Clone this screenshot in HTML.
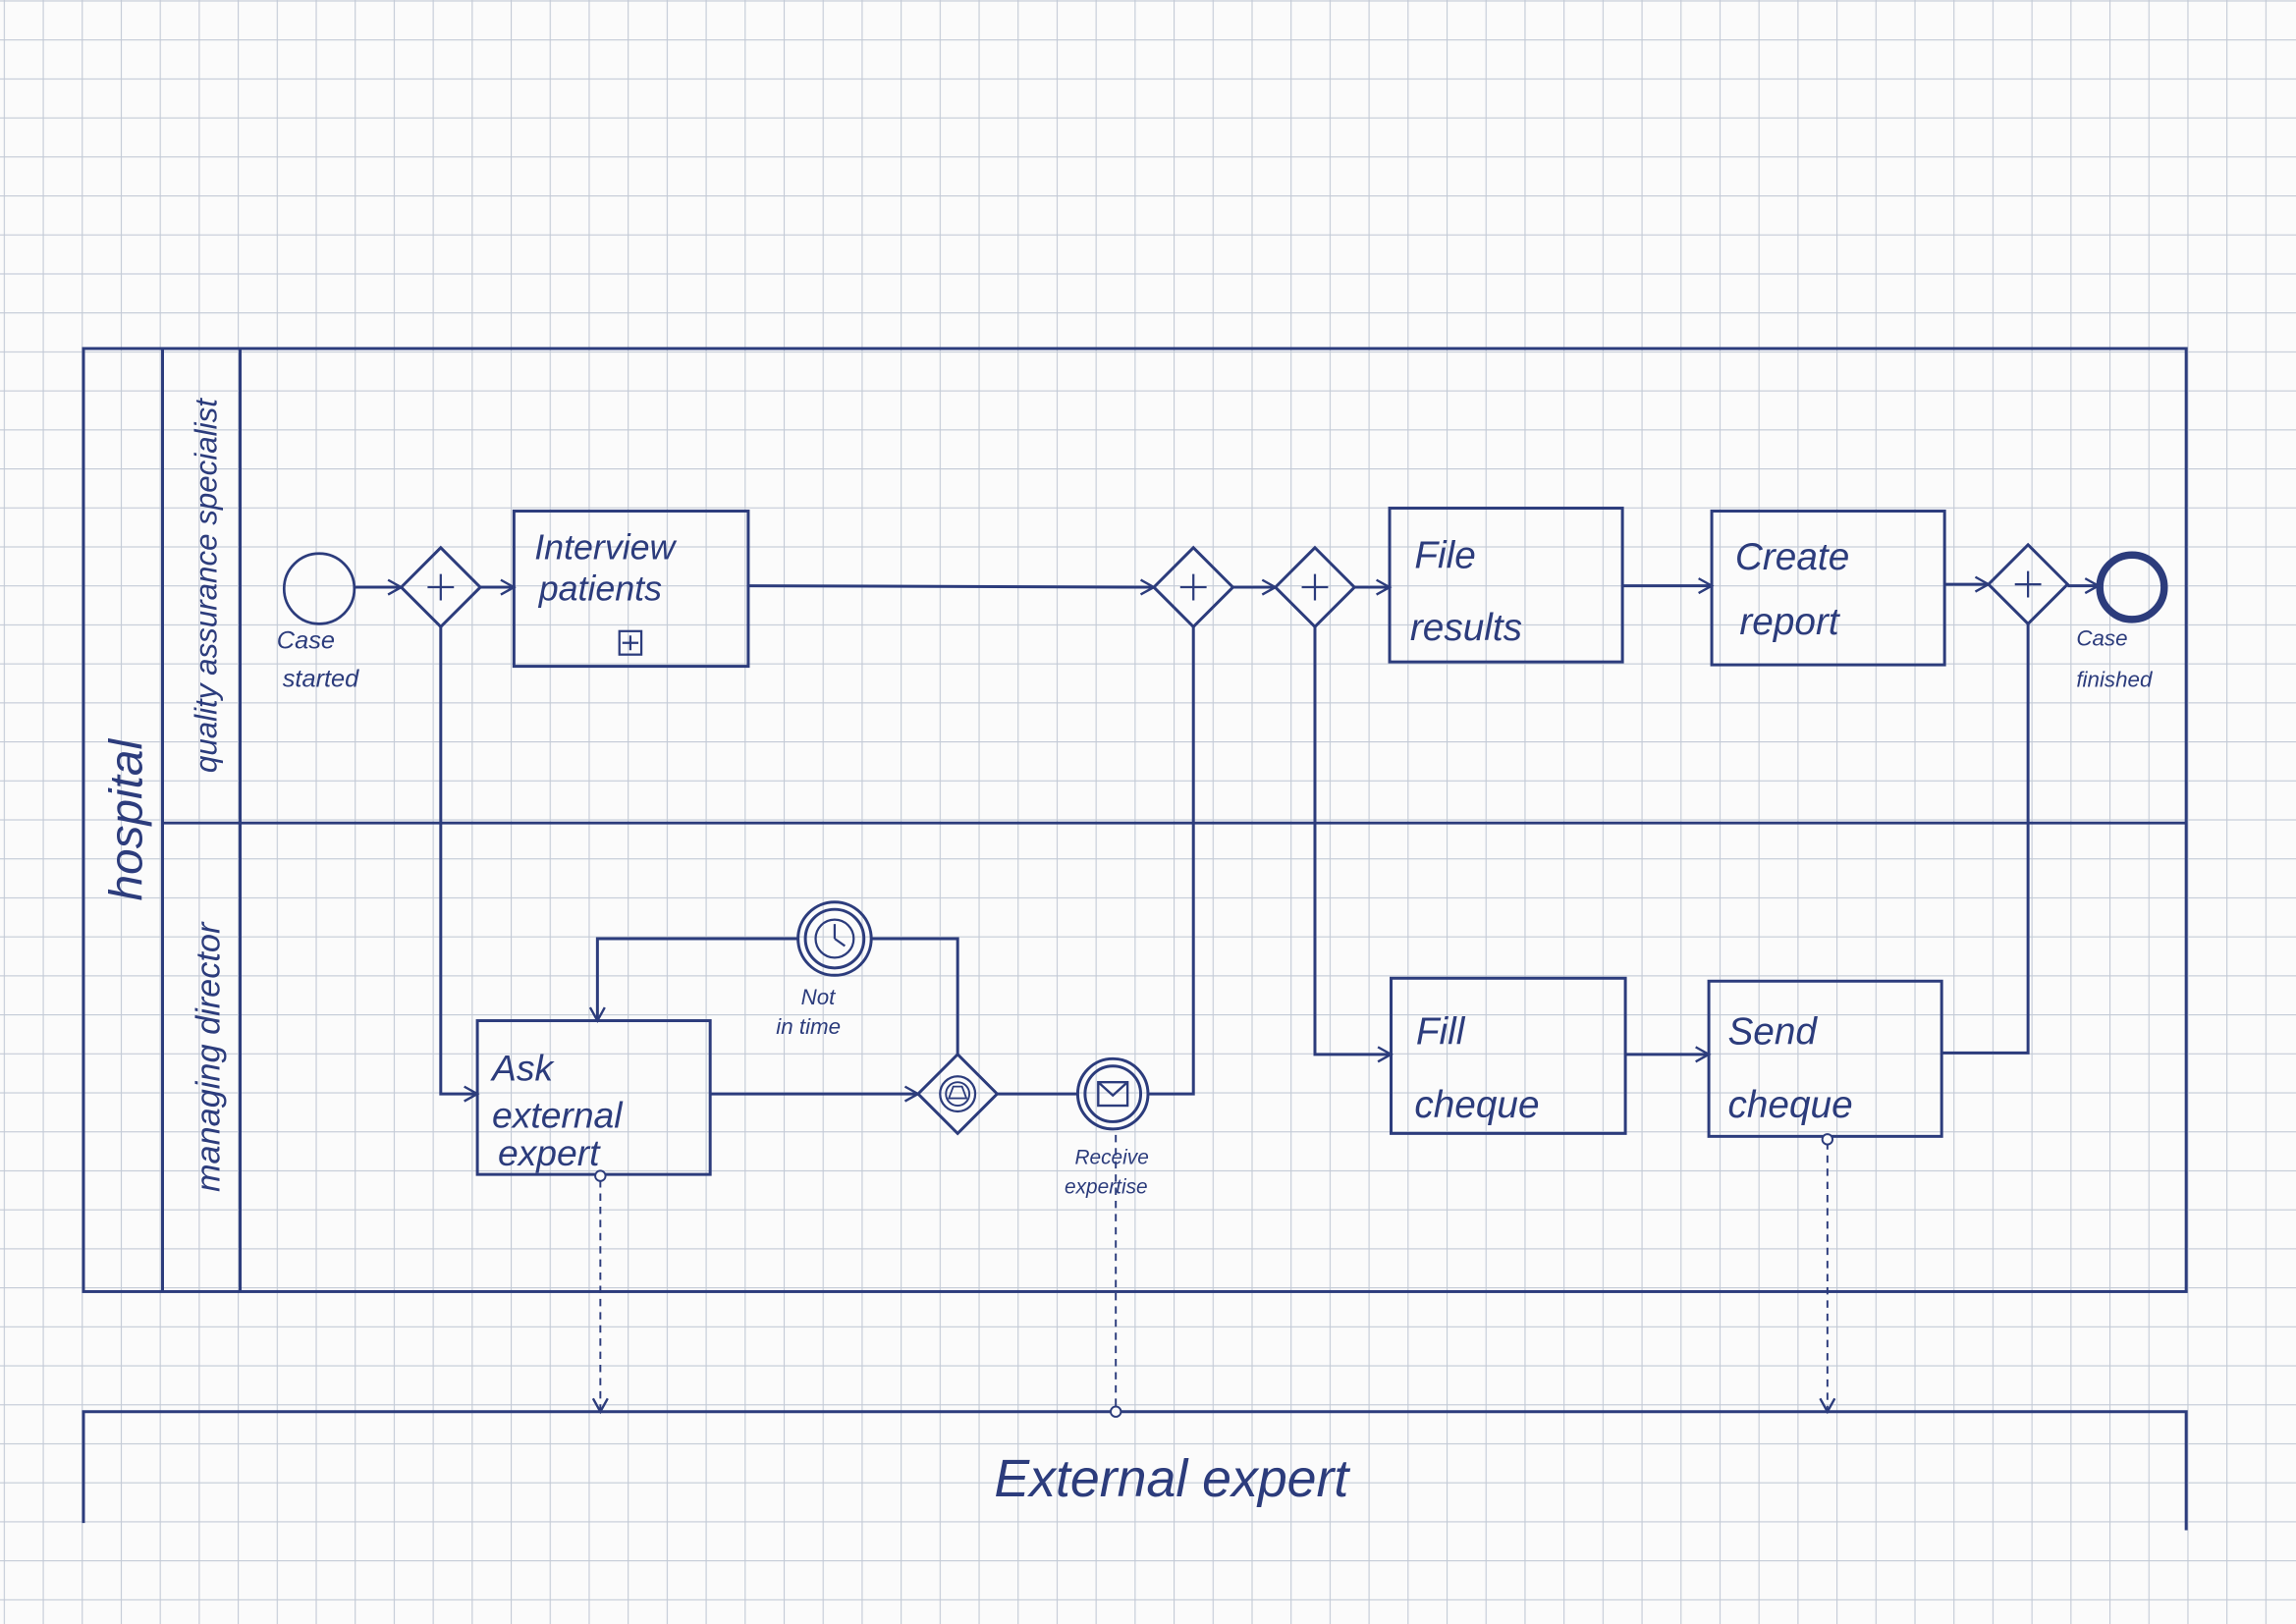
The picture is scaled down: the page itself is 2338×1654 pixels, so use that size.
<!DOCTYPE html>
<html><head><meta charset="utf-8"><style>
html,body{margin:0;padding:0;background:#fbfbfb;}
svg{display:block;}
text{font-family:"Liberation Sans",sans-serif;font-style:italic;fill:#2c3c7c;}
</style></head><body>
<svg width="2338" height="1654" viewBox="0 0 1568 1109" preserveAspectRatio="none" xmlns="http://www.w3.org/2000/svg">
<defs>
<pattern id="g" x="2.55" y="0.27" width="26.63" height="26.63" patternUnits="userSpaceOnUse">
<path d="M0 0.3H26.63M0.3 0V26.63" stroke="#c3cad6" stroke-width="0.9" fill="none"/>
</pattern>
<marker id="a" markerWidth="12" markerHeight="12" refX="10" refY="6" orient="auto" markerUnits="userSpaceOnUse">
<path d="M1 1L10 6L1 11" fill="none" stroke="#2c3c7c" stroke-width="1.6"/>
</marker>
</defs>
<rect width="1568" height="1109" fill="#fbfbfb"/>
<rect width="1568" height="1109" fill="url(#g)"/>
<g stroke="#2c3c7c" stroke-width="2" fill="none">
<!-- pool -->
<rect x="57" y="238" width="1436" height="644"/>
<line x1="111" y1="238" x2="111" y2="882"/>
<line x1="164" y1="238" x2="164" y2="882"/>
<line x1="111" y1="562" x2="1493" y2="562"/>
<!-- external pool -->
<path d="M57 1040V964H1493V1045"/>
<!-- tasks -->
<rect x="351" y="349" width="160" height="106"/>
<rect x="423" y="431" width="15" height="16" stroke-width="1.5"/>
<path d="M430.5 434V444M425 439H436" stroke-width="1.5"/>
<rect x="949" y="347" width="159" height="105"/>
<rect x="1169" y="349" width="159" height="105"/>
<rect x="326" y="697" width="159" height="105"/>
<rect x="950" y="668" width="160" height="106"/>
<rect x="1167" y="670" width="159" height="106"/>
<!-- events -->
<circle cx="218" cy="402" r="24" stroke-width="1.8"/>
<circle cx="1456" cy="401" r="22" stroke-width="5"/>
<circle cx="570" cy="641" r="25"/>
<circle cx="570" cy="641" r="20"/>
<circle cx="570" cy="641" r="13" stroke-width="1.5"/>
<path d="M570 641V631M570 641L577 646" stroke-width="1.5"/>
<circle cx="760" cy="747" r="24"/>
<circle cx="760" cy="747" r="19"/>
<rect x="750" y="739" width="20" height="16" stroke-width="1.6"/>
<path d="M750 739L760 748L770 739" stroke-width="1.6"/>
<!-- gateways -->
<g>
<path d="M301 374L328 401L301 428L274 401Z"/><path d="M301 392V410M292 401H310" stroke-width="1.5"/>
<path d="M815 374L842 401L815 428L788 401Z"/><path d="M815 392V410M806 401H824" stroke-width="1.5"/>
<path d="M898 374L925 401L898 428L871 401Z"/><path d="M898 392V410M889 401H907" stroke-width="1.5"/>
<path d="M1385 372L1412 399L1385 426L1358 399Z"/><path d="M1385 390V408M1376 399H1394" stroke-width="1.5"/>
<path d="M654 720L681 747L654 774L627 747Z"/>
<circle cx="654" cy="747" r="12" stroke-width="1.5"/><circle cx="654" cy="747" r="8" stroke-width="1.3"/>
<path d="M648 750L651 742H657L660 750Z" stroke-width="1.2"/>
</g>
<!-- sequence flows -->
<line x1="242" y1="401" x2="274" y2="401" marker-end="url(#a)"/>
<line x1="328" y1="401" x2="351" y2="401" marker-end="url(#a)"/>
<line x1="511" y1="400" x2="788" y2="401" marker-end="url(#a)"/>
<path d="M301 428V747H326" marker-end="url(#a)"/>
<line x1="485" y1="747" x2="627" y2="747" marker-end="url(#a)"/>
<path d="M654 720V641H595"/>
<path d="M545 641H408V697" marker-end="url(#a)"/>
<line x1="681" y1="747" x2="736" y2="747"/>
<path d="M784 747H815V428"/>
<line x1="842" y1="401" x2="871" y2="401" marker-end="url(#a)"/>
<line x1="925" y1="401" x2="949" y2="401" marker-end="url(#a)"/>
<path d="M898 428V720H950" marker-end="url(#a)"/>
<line x1="1108" y1="400" x2="1169" y2="400" marker-end="url(#a)"/>
<line x1="1328" y1="399" x2="1358" y2="399" marker-end="url(#a)"/>
<line x1="1412" y1="400" x2="1433" y2="400" marker-end="url(#a)"/>
<line x1="1110" y1="720" x2="1167" y2="720" marker-end="url(#a)"/>
<path d="M1326 719H1385V426"/>
<!-- message flows -->
<g stroke-width="1.3" stroke-dasharray="5 4">
<line x1="410" y1="806" x2="410" y2="964" marker-end="url(#a)"/>
<line x1="762" y1="960" x2="762" y2="773"/>
<line x1="1248" y1="780" x2="1248" y2="964" marker-end="url(#a)"/>
</g>
<circle cx="410" cy="803" r="3.5" stroke-width="1.3" fill="#fbfbfb"/>
<circle cx="762" cy="964" r="3.5" stroke-width="1.3" fill="#fbfbfb"/>
<circle cx="1248" cy="778" r="3.5" stroke-width="1.3" fill="#fbfbfb"/>
</g>
<!-- labels -->
<text transform="translate(97,560) rotate(-90)" text-anchor="middle" font-size="32">hospital</text>
<text transform="translate(148,400) rotate(-90)" text-anchor="middle" font-size="21">quality assurance specialist</text>
<text transform="translate(150,722) rotate(-90)" text-anchor="middle" font-size="23">managing director</text>
<text x="365" y="382" font-size="24">Interview</text>
<text x="368" y="410" font-size="24">patients</text>
<text x="966" y="388" font-size="26">File</text>
<text x="963" y="437" font-size="26">results</text>
<text x="1185" y="389" font-size="26">Create</text>
<text x="1188" y="433" font-size="26">report</text>
<text x="336" y="738" font-size="25">Ask</text>
<text x="336" y="770" font-size="25">external</text>
<text x="340" y="796" font-size="25">expert</text>
<text x="967" y="713" font-size="26">Fill</text>
<text x="966" y="763" font-size="26">cheque</text>
<text x="1180" y="713" font-size="26">Send</text>
<text x="1180" y="763" font-size="26">cheque</text>
<text x="189" y="443" font-size="17">Case</text>
<text x="193" y="469" font-size="17">started</text>
<text x="547" y="686" font-size="15">Not</text>
<text x="530" y="706" font-size="15">in time</text>
<text x="734" y="795" font-size="14">Receive</text>
<text x="727" y="815" font-size="14">expertise</text>
<text x="1418" y="441" font-size="15">Case</text>
<text x="1418" y="469" font-size="15">finished</text>
<text x="800" y="1022" text-anchor="middle" font-size="36">External expert</text>
</svg>
</body></html>
